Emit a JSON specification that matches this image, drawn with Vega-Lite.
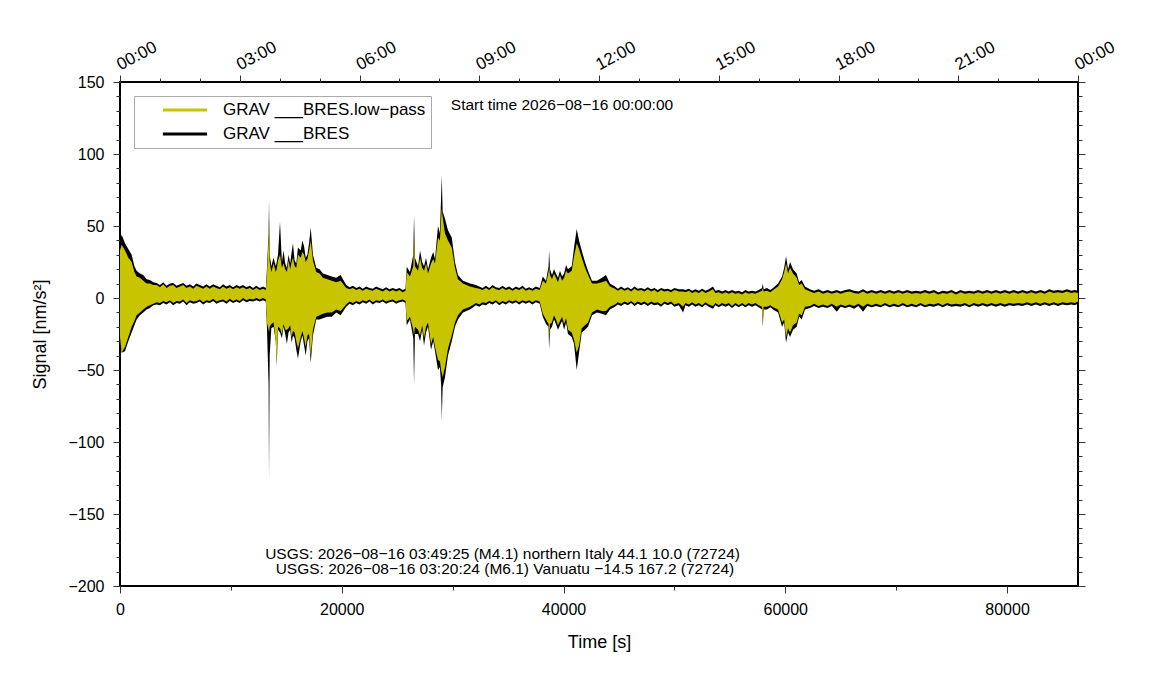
{
  "$schema": "https://vega.github.io/schema/vega-lite/v6.json",
  "width": 958,
  "height": 504,
  "autosize": {"type": "none"},
  "padding": {"left": 120, "top": 82, "right": 73, "bottom": 114},
  "background": "white",
  "data": {"values": [
    {"t":0,"hi":40,"lo":-30,"lhi":33,"llo":-27},
    {"t":150,"hi":44,"lo":-38,"lhi":37,"llo":-38},
    {"t":450,"hi":38,"lo":-37,"lhi":33,"llo":-34},
    {"t":750,"hi":34,"lo":-30,"lhi":28,"llo":-27},
    {"t":1050,"hi":30,"lo":-24,"lhi":25,"llo":-20},
    {"t":1300,"hi":22,"lo":-19,"lhi":18,"llo":-16},
    {"t":1500,"hi":19,"lo":-15,"lhi":15,"llo":-12},
    {"t":1800,"hi":17,"lo":-12,"lhi":14,"llo":-10},
    {"t":2100,"hi":16,"lo":-10,"lhi":12,"llo":-8},
    {"t":2400,"hi":13,"lo":-8,"lhi":10,"llo":-6},
    {"t":2700,"hi":12.5,"lo":-7,"lhi":10,"llo":-5},
    {"t":3000,"hi":11,"lo":-5,"lhi":9,"llo":-4},
    {"t":3300,"hi":10.5,"lo":-4.5,"lhi":9,"llo":-3},
    {"t":3600,"hi":9,"lo":-5,"lhi":7.5,"llo":-3.5},
    {"t":3900,"hi":11,"lo":-3.5,"lhi":9.5,"llo":-2},
    {"t":4200,"hi":8.5,"lo":-4.5,"lhi":7,"llo":-3},
    {"t":4500,"hi":10,"lo":-3,"lhi":8.5,"llo":-1.5},
    {"t":4800,"hi":10.5,"lo":-5,"lhi":9,"llo":-3.5},
    {"t":5100,"hi":8.5,"lo":-3.5,"lhi":7,"llo":-2},
    {"t":5400,"hi":9.5,"lo":-4,"lhi":8,"llo":-2.5},
    {"t":5700,"hi":10.5,"lo":-2.5,"lhi":9,"llo":-1},
    {"t":6000,"hi":8.5,"lo":-5,"lhi":7,"llo":-3.5},
    {"t":6300,"hi":9.5,"lo":-3,"lhi":8,"llo":-1.5},
    {"t":6600,"hi":8,"lo":-4,"lhi":6.5,"llo":-2.5},
    {"t":6900,"hi":10,"lo":-3.5,"lhi":8.5,"llo":-2},
    {"t":7200,"hi":9,"lo":-2.5,"lhi":7.5,"llo":-1},
    {"t":7500,"hi":8,"lo":-4.5,"lhi":6.5,"llo":-3},
    {"t":7800,"hi":9.5,"lo":-3,"lhi":8,"llo":-1.5},
    {"t":8100,"hi":8,"lo":-3.5,"lhi":6.5,"llo":-2},
    {"t":8400,"hi":9.5,"lo":-2,"lhi":8,"llo":-0.5},
    {"t":8700,"hi":8.5,"lo":-4,"lhi":7,"llo":-2.5},
    {"t":9000,"hi":7.5,"lo":-3,"lhi":6,"llo":-1.5},
    {"t":9300,"hi":9.5,"lo":-2.5,"lhi":8,"llo":-1},
    {"t":9600,"hi":8,"lo":-4,"lhi":6.5,"llo":-2.5},
    {"t":9900,"hi":9,"lo":-2,"lhi":7.5,"llo":-0.5},
    {"t":10200,"hi":7.5,"lo":-3.5,"lhi":6,"llo":-2},
    {"t":10500,"hi":9,"lo":-2.5,"lhi":7.5,"llo":-1},
    {"t":10800,"hi":8,"lo":-3.5,"lhi":6.5,"llo":-2},
    {"t":11100,"hi":9,"lo":-1.5,"lhi":7.5,"llo":0},
    {"t":11400,"hi":7.5,"lo":-3,"lhi":6,"llo":-1.5},
    {"t":11700,"hi":8.5,"lo":-2,"lhi":7,"llo":-0.5},
    {"t":12000,"hi":7,"lo":-2.5,"lhi":5.5,"llo":-1},
    {"t":12300,"hi":8.5,"lo":-1.5,"lhi":7,"llo":0},
    {"t":12600,"hi":7,"lo":-2.5,"lhi":5.5,"llo":-1},
    {"t":12900,"hi":8,"lo":-1.5,"lhi":6.5,"llo":0},
    {"t":13150,"hi":7,"lo":-2.5,"lhi":5.5,"llo":-1},
    {"t":13250,"hi":20,"lo":-20,"lhi":16,"llo":-17},
    {"t":13400,"hi":45,"lo":-60,"lhi":40,"llo":-22},
    {"t":13440,"hi":68.5,"lo":-126,"lhi":55,"llo":-24},
    {"t":13500,"hi":30,"lo":-40,"lhi":25,"llo":-20},
    {"t":13650,"hi":22,"lo":-21,"lhi":18,"llo":-18},
    {"t":13850,"hi":28,"lo":-20,"lhi":24,"llo":-17},
    {"t":14050,"hi":22,"lo":-30,"lhi":18,"llo":-30},
    {"t":14130,"hi":25,"lo":-47,"lhi":20,"llo":-46},
    {"t":14250,"hi":30,"lo":-22,"lhi":26,"llo":-20},
    {"t":14430,"hi":53,"lo":-24,"lhi":30,"llo":-21},
    {"t":14600,"hi":25,"lo":-28,"lhi":21,"llo":-25},
    {"t":14750,"hi":33,"lo":-20,"lhi":24,"llo":-18},
    {"t":14900,"hi":24,"lo":-25,"lhi":20,"llo":-22},
    {"t":15050,"hi":21,"lo":-32,"lhi":18,"llo":-22},
    {"t":15200,"hi":30,"lo":-24,"lhi":26,"llo":-21},
    {"t":15350,"hi":24,"lo":-22,"lhi":20,"llo":-19},
    {"t":15480,"hi":32,"lo":-31,"lhi":25,"llo":-27},
    {"t":15600,"hi":38,"lo":-26,"lhi":28,"llo":-23},
    {"t":15750,"hi":26,"lo":-28,"lhi":22,"llo":-24},
    {"t":15900,"hi":24,"lo":-36,"lhi":21,"llo":-30},
    {"t":16050,"hi":35,"lo":-42,"lhi":30,"llo":-35},
    {"t":16300,"hi":33,"lo":-30,"lhi":28,"llo":-27},
    {"t":16450,"hi":40,"lo":-26,"lhi":32,"llo":-23},
    {"t":16600,"hi":36,"lo":-33,"lhi":30,"llo":-28},
    {"t":16750,"hi":28,"lo":-40,"lhi":25,"llo":-34},
    {"t":16900,"hi":30,"lo":-30,"lhi":27,"llo":-26},
    {"t":17050,"hi":38,"lo":-28,"lhi":33,"llo":-25},
    {"t":17200,"hi":49,"lo":-45,"lhi":40,"llo":-40},
    {"t":17400,"hi":30,"lo":-26,"lhi":26,"llo":-22},
    {"t":17700,"hi":21,"lo":-15,"lhi":18,"llo":-13},
    {"t":18000,"hi":20,"lo":-15,"lhi":17,"llo":-12},
    {"t":18300,"hi":17,"lo":-14,"lhi":14,"llo":-11},
    {"t":18700,"hi":16,"lo":-13,"lhi":13,"llo":-10},
    {"t":19100,"hi":15,"lo":-13,"lhi":12,"llo":-10},
    {"t":19500,"hi":14,"lo":-10,"lhi":11,"llo":-8},
    {"t":19900,"hi":16,"lo":-12,"lhi":12,"llo":-9},
    {"t":20400,"hi":9,"lo":-6,"lhi":7,"llo":-4.5},
    {"t":20700,"hi":7.5,"lo":-4,"lhi":6,"llo":-2.5},
    {"t":21000,"hi":8.5,"lo":-5,"lhi":7,"llo":-3.5},
    {"t":21300,"hi":7,"lo":-3.5,"lhi":5.5,"llo":-2},
    {"t":21600,"hi":8,"lo":-4.5,"lhi":6.5,"llo":-3},
    {"t":21900,"hi":6.5,"lo":-3,"lhi":5,"llo":-1.5},
    {"t":22200,"hi":8,"lo":-4,"lhi":6.5,"llo":-2.5},
    {"t":22500,"hi":7,"lo":-2.5,"lhi":5.5,"llo":-1},
    {"t":22800,"hi":6.5,"lo":-4.5,"lhi":5,"llo":-3},
    {"t":23100,"hi":8,"lo":-3,"lhi":6.5,"llo":-1.5},
    {"t":23400,"hi":7,"lo":-3.5,"lhi":5.5,"llo":-2},
    {"t":23700,"hi":6,"lo":-2.5,"lhi":4.5,"llo":-1},
    {"t":24000,"hi":7.5,"lo":-4,"lhi":6,"llo":-2.5},
    {"t":24300,"hi":6,"lo":-3,"lhi":4.5,"llo":-1.5},
    {"t":24600,"hi":7,"lo":-2.5,"lhi":5.5,"llo":-1},
    {"t":24900,"hi":6,"lo":-4,"lhi":4.5,"llo":-2.5},
    {"t":25200,"hi":7,"lo":-3,"lhi":5.5,"llo":-1.5},
    {"t":25500,"hi":5.5,"lo":-2.5,"lhi":4,"llo":-1},
    {"t":25750,"hi":6.5,"lo":-3.5,"lhi":5,"llo":-2},
    {"t":25860,"hi":21.7,"lo":-19,"lhi":18,"llo":-16},
    {"t":26150,"hi":18,"lo":-15,"lhi":15,"llo":-13},
    {"t":26450,"hi":30,"lo":-28,"lhi":22,"llo":-22},
    {"t":26520,"hi":58,"lo":-60,"lhi":45,"llo":-26},
    {"t":26600,"hi":28,"lo":-25,"lhi":22,"llo":-20},
    {"t":26880,"hi":22,"lo":-25,"lhi":19,"llo":-22},
    {"t":27060,"hi":33,"lo":-30,"lhi":28,"llo":-26},
    {"t":27250,"hi":25,"lo":-22,"lhi":21,"llo":-19},
    {"t":27420,"hi":22,"lo":-33,"lhi":19,"llo":-28},
    {"t":27600,"hi":28,"lo":-24,"lhi":24,"llo":-20},
    {"t":27780,"hi":20,"lo":-20,"lhi":17,"llo":-17},
    {"t":28050,"hi":28,"lo":-36,"lhi":24,"llo":-32},
    {"t":28250,"hi":32,"lo":-30,"lhi":27,"llo":-27},
    {"t":28410,"hi":27,"lo":-37,"lhi":24,"llo":-34},
    {"t":28680,"hi":50,"lo":-50,"lhi":42,"llo":-43},
    {"t":28850,"hi":45,"lo":-48,"lhi":40,"llo":-44},
    {"t":28960,"hi":70,"lo":-60,"lhi":55,"llo":-50},
    {"t":29020,"hi":85,"lo":-85,"lhi":62,"llo":-52},
    {"t":29100,"hi":60,"lo":-62,"lhi":56,"llo":-55},
    {"t":29310,"hi":55,"lo":-55,"lhi":45,"llo":-48},
    {"t":29580,"hi":47,"lo":-40,"lhi":40,"llo":-35},
    {"t":29920,"hi":42,"lo":-30,"lhi":35,"llo":-26},
    {"t":30210,"hi":25,"lo":-20,"lhi":21,"llo":-17},
    {"t":30480,"hi":16,"lo":-15,"lhi":13,"llo":-12},
    {"t":30930,"hi":12,"lo":-10,"lhi":10,"llo":-8},
    {"t":31570,"hi":10,"lo":-8,"lhi":8,"llo":-6},
    {"t":32100,"hi":9,"lo":-5,"lhi":7,"llo":-3.5},
    {"t":32400,"hi":8,"lo":-6,"lhi":6.5,"llo":-4.5},
    {"t":32700,"hi":7,"lo":-4.5,"lhi":5.5,"llo":-3},
    {"t":33000,"hi":8.5,"lo":-5,"lhi":7,"llo":-3.5},
    {"t":33300,"hi":7,"lo":-3.5,"lhi":5.5,"llo":-2},
    {"t":33600,"hi":9,"lo":-4.5,"lhi":7.5,"llo":-3},
    {"t":33900,"hi":7.5,"lo":-3,"lhi":6,"llo":-1.5},
    {"t":34200,"hi":7,"lo":-5,"lhi":5.5,"llo":-3.5},
    {"t":34500,"hi":8.5,"lo":-3.5,"lhi":7,"llo":-2},
    {"t":34800,"hi":7,"lo":-4.5,"lhi":5.5,"llo":-3},
    {"t":35100,"hi":8,"lo":-3,"lhi":6.5,"llo":-1.5},
    {"t":35400,"hi":6.5,"lo":-4,"lhi":5,"llo":-2.5},
    {"t":35700,"hi":8,"lo":-3,"lhi":6.5,"llo":-1.5},
    {"t":36000,"hi":7,"lo":-4.5,"lhi":5.5,"llo":-3},
    {"t":36300,"hi":8.5,"lo":-3,"lhi":7,"llo":-1.5},
    {"t":36600,"hi":6.5,"lo":-4,"lhi":5,"llo":-2.5},
    {"t":36900,"hi":7.5,"lo":-3,"lhi":6,"llo":-1.5},
    {"t":37200,"hi":6.5,"lo":-4.5,"lhi":5,"llo":-3},
    {"t":37500,"hi":8,"lo":-3,"lhi":6.5,"llo":-1.5},
    {"t":37850,"hi":7,"lo":-4,"lhi":5.5,"llo":-2.5},
    {"t":38130,"hi":15,"lo":-13,"lhi":12,"llo":-11},
    {"t":38420,"hi":12,"lo":-18,"lhi":10,"llo":-15},
    {"t":38650,"hi":22,"lo":-20,"lhi":18,"llo":-18},
    {"t":38700,"hi":33,"lo":-36,"lhi":22,"llo":-26},
    {"t":38780,"hi":20,"lo":-22,"lhi":16,"llo":-18},
    {"t":38960,"hi":16,"lo":-20,"lhi":13,"llo":-17},
    {"t":39140,"hi":20,"lo":-15,"lhi":17,"llo":-12},
    {"t":39320,"hi":17,"lo":-18,"lhi":14,"llo":-15},
    {"t":39500,"hi":14,"lo":-22,"lhi":11,"llo":-19},
    {"t":39680,"hi":19,"lo":-19,"lhi":16,"llo":-16},
    {"t":39870,"hi":15,"lo":-16,"lhi":12,"llo":-13},
    {"t":40050,"hi":17,"lo":-22,"lhi":14,"llo":-18},
    {"t":40230,"hi":23,"lo":-17,"lhi":19,"llo":-14},
    {"t":40400,"hi":20,"lo":-25,"lhi":17,"llo":-22},
    {"t":40740,"hi":22,"lo":-27,"lhi":19,"llo":-24},
    {"t":40950,"hi":35,"lo":-32,"lhi":29,"llo":-29},
    {"t":41190,"hi":48,"lo":-50,"lhi":38,"llo":-38},
    {"t":41400,"hi":40,"lo":-38,"lhi":34,"llo":-33},
    {"t":41640,"hi":33,"lo":-24,"lhi":28,"llo":-21},
    {"t":41940,"hi":25,"lo":-22,"lhi":21,"llo":-19},
    {"t":42210,"hi":19,"lo":-20,"lhi":16,"llo":-17},
    {"t":42570,"hi":12,"lo":-12,"lhi":10,"llo":-10},
    {"t":43020,"hi":12,"lo":-10,"lhi":10,"llo":-8},
    {"t":43470,"hi":14,"lo":-11,"lhi":11,"llo":-9},
    {"t":43830,"hi":16,"lo":-12,"lhi":12,"llo":-9},
    {"t":44190,"hi":10,"lo":-8,"lhi":8,"llo":-6},
    {"t":44640,"hi":8,"lo":-6,"lhi":6.5,"llo":-4.5},
    {"t":44900,"hi":6.5,"lo":-4.5,"lhi":5,"llo":-3},
    {"t":45200,"hi":8,"lo":-5.5,"lhi":6.5,"llo":-4},
    {"t":45500,"hi":6.5,"lo":-4,"lhi":5,"llo":-2.5},
    {"t":45800,"hi":7.5,"lo":-5,"lhi":6,"llo":-3.5},
    {"t":46100,"hi":6,"lo":-3.5,"lhi":4.5,"llo":-2},
    {"t":46400,"hi":8,"lo":-5.5,"lhi":6.5,"llo":-4},
    {"t":46700,"hi":6.5,"lo":-4,"lhi":5,"llo":-2.5},
    {"t":47000,"hi":7,"lo":-5,"lhi":5.5,"llo":-3.5},
    {"t":47300,"hi":6,"lo":-4,"lhi":4.5,"llo":-2.5},
    {"t":47600,"hi":7.5,"lo":-5.5,"lhi":6,"llo":-4},
    {"t":47900,"hi":6,"lo":-4,"lhi":4.5,"llo":-2.5},
    {"t":48200,"hi":7,"lo":-5,"lhi":5.5,"llo":-3.5},
    {"t":48500,"hi":5.5,"lo":-4.5,"lhi":4,"llo":-3},
    {"t":48800,"hi":7,"lo":-6,"lhi":5.5,"llo":-4.5},
    {"t":49100,"hi":6,"lo":-4,"lhi":4.5,"llo":-2.5},
    {"t":49400,"hi":6.5,"lo":-5,"lhi":5,"llo":-3.5},
    {"t":49700,"hi":5.5,"lo":-4,"lhi":4,"llo":-2.5},
    {"t":50000,"hi":7,"lo":-6,"lhi":5.5,"llo":-4.5},
    {"t":50400,"hi":6,"lo":-5,"lhi":4.5,"llo":-3.5},
    {"t":50780,"hi":6,"lo":-10,"lhi":4.5,"llo":-6},
    {"t":51000,"hi":5.5,"lo":-5,"lhi":4,"llo":-3.5},
    {"t":51300,"hi":6.5,"lo":-6,"lhi":5,"llo":-4.5},
    {"t":51600,"hi":5,"lo":-4.5,"lhi":3.5,"llo":-3},
    {"t":51900,"hi":6,"lo":-6,"lhi":4.5,"llo":-4.5},
    {"t":52200,"hi":5,"lo":-5,"lhi":3.5,"llo":-3.5},
    {"t":52500,"hi":6.5,"lo":-6.5,"lhi":5,"llo":-5},
    {"t":52800,"hi":5,"lo":-4.5,"lhi":3.5,"llo":-3},
    {"t":53100,"hi":6,"lo":-6,"lhi":4.5,"llo":-4.5},
    {"t":53480,"hi":8,"lo":-7.5,"lhi":6,"llo":-5.5},
    {"t":53700,"hi":5,"lo":-5,"lhi":3.5,"llo":-3.5},
    {"t":54000,"hi":5.5,"lo":-6.5,"lhi":4,"llo":-5},
    {"t":54300,"hi":4.5,"lo":-5,"lhi":3,"llo":-3.5},
    {"t":54600,"hi":5.5,"lo":-6,"lhi":4,"llo":-4.5},
    {"t":54900,"hi":4.5,"lo":-5,"lhi":3,"llo":-3.5},
    {"t":55200,"hi":5.5,"lo":-7,"lhi":4,"llo":-5.5},
    {"t":55500,"hi":4.5,"lo":-5,"lhi":3,"llo":-3.5},
    {"t":55800,"hi":5,"lo":-6.5,"lhi":3.5,"llo":-5},
    {"t":56100,"hi":4,"lo":-5,"lhi":2.5,"llo":-3.5},
    {"t":56400,"hi":5.5,"lo":-6.5,"lhi":4,"llo":-5},
    {"t":56700,"hi":4.5,"lo":-5,"lhi":3,"llo":-3.5},
    {"t":57000,"hi":5,"lo":-6,"lhi":3.5,"llo":-4.5},
    {"t":57300,"hi":4.5,"lo":-5,"lhi":3,"llo":-3.5},
    {"t":57600,"hi":5.5,"lo":-6.5,"lhi":4,"llo":-5},
    {"t":57900,"hi":7,"lo":-8,"lhi":5,"llo":-6},
    {"t":57970,"hi":10,"lo":-20,"lhi":7,"llo":-19},
    {"t":58050,"hi":6,"lo":-8,"lhi":4.5,"llo":-6},
    {"t":58350,"hi":7,"lo":-8,"lhi":5,"llo":-6},
    {"t":58650,"hi":5.5,"lo":-6.5,"lhi":4,"llo":-5},
    {"t":58900,"hi":7,"lo":-8,"lhi":5.5,"llo":-6.5},
    {"t":59350,"hi":10,"lo":-10,"lhi":8,"llo":-8},
    {"t":59710,"hi":15,"lo":-20,"lhi":13,"llo":-17},
    {"t":59900,"hi":21,"lo":-17,"lhi":18,"llo":-15},
    {"t":60070,"hi":29,"lo":-31,"lhi":24,"llo":-27},
    {"t":60250,"hi":20,"lo":-24,"lhi":17,"llo":-21},
    {"t":60430,"hi":25,"lo":-27,"lhi":21,"llo":-24},
    {"t":60700,"hi":20,"lo":-22,"lhi":17,"llo":-19},
    {"t":61030,"hi":17,"lo":-20,"lhi":14,"llo":-17},
    {"t":61250,"hi":11,"lo":-13,"lhi":9,"llo":-11},
    {"t":61480,"hi":12.5,"lo":-15,"lhi":10,"llo":-12},
    {"t":61780,"hi":8,"lo":-8,"lhi":6,"llo":-6},
    {"t":62230,"hi":6,"lo":-7,"lhi":4.5,"llo":-5.5},
    {"t":62600,"hi":5,"lo":-5.5,"lhi":3.5,"llo":-4},
    {"t":63000,"hi":6,"lo":-7,"lhi":4.5,"llo":-5.5},
    {"t":63400,"hi":4.5,"lo":-6,"lhi":3,"llo":-4.5},
    {"t":63800,"hi":5.5,"lo":-7,"lhi":4,"llo":-5.5},
    {"t":64200,"hi":4.5,"lo":-5.5,"lhi":3,"llo":-4},
    {"t":64640,"hi":5.5,"lo":-9.5,"lhi":4,"llo":-6},
    {"t":65000,"hi":4.5,"lo":-6,"lhi":3,"llo":-4.5},
    {"t":65400,"hi":5.5,"lo":-7,"lhi":4,"llo":-5.5},
    {"t":65800,"hi":6,"lo":-6,"lhi":4.5,"llo":-4.5},
    {"t":66200,"hi":5,"lo":-7.5,"lhi":3.5,"llo":-5.5},
    {"t":66600,"hi":4.5,"lo":-5.5,"lhi":3,"llo":-4},
    {"t":67010,"hi":6,"lo":-9.5,"lhi":4.5,"llo":-6},
    {"t":67400,"hi":4.5,"lo":-5.5,"lhi":3,"llo":-4},
    {"t":67800,"hi":5.5,"lo":-6.5,"lhi":4,"llo":-5},
    {"t":68200,"hi":4.5,"lo":-5.5,"lhi":3,"llo":-4},
    {"t":68600,"hi":5.5,"lo":-6.5,"lhi":4,"llo":-5},
    {"t":69000,"hi":4.5,"lo":-5,"lhi":3,"llo":-3.5},
    {"t":69400,"hi":5.5,"lo":-6.5,"lhi":4,"llo":-5},
    {"t":69800,"hi":4.5,"lo":-5.5,"lhi":3,"llo":-4},
    {"t":70200,"hi":5.5,"lo":-6.5,"lhi":4,"llo":-5},
    {"t":70600,"hi":4.5,"lo":-5,"lhi":3,"llo":-3.5},
    {"t":71000,"hi":5.5,"lo":-6.5,"lhi":4,"llo":-5},
    {"t":71400,"hi":4.5,"lo":-5.5,"lhi":3,"llo":-4},
    {"t":71800,"hi":5,"lo":-6.5,"lhi":3.5,"llo":-5},
    {"t":72200,"hi":4.5,"lo":-5,"lhi":3,"llo":-3.5},
    {"t":72600,"hi":5.5,"lo":-6.5,"lhi":4,"llo":-5},
    {"t":73000,"hi":4.5,"lo":-5.5,"lhi":3,"llo":-4},
    {"t":73400,"hi":5.5,"lo":-6,"lhi":4,"llo":-4.5},
    {"t":73800,"hi":4,"lo":-5,"lhi":2.5,"llo":-3.5},
    {"t":74200,"hi":5,"lo":-6.5,"lhi":3.5,"llo":-5},
    {"t":74600,"hi":4.5,"lo":-5,"lhi":3,"llo":-3.5},
    {"t":75000,"hi":5.5,"lo":-6,"lhi":4,"llo":-4.5},
    {"t":75400,"hi":4,"lo":-5.5,"lhi":2.5,"llo":-4},
    {"t":75800,"hi":5.5,"lo":-6,"lhi":4,"llo":-4.5},
    {"t":76200,"hi":4.5,"lo":-5,"lhi":3,"llo":-3.5},
    {"t":76600,"hi":5,"lo":-6.5,"lhi":3.5,"llo":-5},
    {"t":77000,"hi":4.5,"lo":-5,"lhi":3,"llo":-3.5},
    {"t":77400,"hi":5.5,"lo":-6,"lhi":4,"llo":-4.5},
    {"t":77800,"hi":4.5,"lo":-5,"lhi":3,"llo":-3.5},
    {"t":78200,"hi":5.5,"lo":-6,"lhi":4,"llo":-4.5},
    {"t":78600,"hi":4.5,"lo":-5,"lhi":3,"llo":-3.5},
    {"t":79000,"hi":5.5,"lo":-6,"lhi":4,"llo":-4.5},
    {"t":79400,"hi":4.5,"lo":-5,"lhi":3,"llo":-3.5},
    {"t":79800,"hi":5.5,"lo":-6,"lhi":4,"llo":-4.5},
    {"t":80200,"hi":4.5,"lo":-5,"lhi":3,"llo":-3.5},
    {"t":80600,"hi":5.5,"lo":-5.5,"lhi":4,"llo":-4},
    {"t":81000,"hi":4.5,"lo":-5,"lhi":3,"llo":-3.5},
    {"t":81400,"hi":5.5,"lo":-5.5,"lhi":4,"llo":-4},
    {"t":81800,"hi":4.5,"lo":-4.5,"lhi":3,"llo":-3},
    {"t":82200,"hi":5.5,"lo":-5.5,"lhi":4,"llo":-4},
    {"t":82600,"hi":4.5,"lo":-4.5,"lhi":3,"llo":-3},
    {"t":83000,"hi":5.5,"lo":-5.5,"lhi":4,"llo":-4},
    {"t":83400,"hi":4.5,"lo":-4.5,"lhi":3,"llo":-3},
    {"t":83800,"hi":6,"lo":-5.5,"lhi":4.5,"llo":-4},
    {"t":84200,"hi":5,"lo":-4.5,"lhi":3.5,"llo":-3},
    {"t":84600,"hi":5.5,"lo":-5.5,"lhi":4,"llo":-4},
    {"t":85000,"hi":5,"lo":-4.5,"lhi":3.5,"llo":-3},
    {"t":85400,"hi":6,"lo":-5,"lhi":4.5,"llo":-3.5},
    {"t":85800,"hi":5,"lo":-4.5,"lhi":3.5,"llo":-3},
    {"t":86100,"hi":5.5,"lo":-5,"lhi":4,"llo":-3.5},
    {"t":86400,"hi":5,"lo":-4,"lhi":3.5,"llo":-2.5}
  ]},
  "layer": [
    {
      "mark": {"type": "area", "interpolate": "linear", "opacity": 1},
      "encoding": {
        "x": {"field": "t", "type": "quantitative",
          "scale": {"domain": [0, 86400], "nice": false, "zero": false},
          "axis": {"orient": "bottom", "title": "Time [s]", "format": "d",
            "values": [0,10000,20000,30000,40000,50000,60000,70000,80000],
            "labelExpr": "datum.value % 20000 === 0 ? datum.label : ''",
            "tickSize": {"condition": {"test": "datum.value % 20000 === 0", "value": 7}, "value": 4},
            "labelPadding": 8, "titlePadding": 16}},
        "y": {"field": "hi", "type": "quantitative",
          "scale": {"domain": [-200, 150], "nice": false, "zero": false},
          "axis": {"orient": "left", "title": "Signal [nm/s²]", "format": "d",
            "values": [-200,-190,-180,-170,-160,-150,-140,-130,-120,-110,-100,-90,-80,-70,-60,-50,-40,-30,-20,-10,0,10,20,30,40,50,60,70,80,90,100,110,120,130,140,150],
            "labelExpr": "datum.value % 50 === 0 ? datum.label : ''",
            "tickSize": {"condition": {"test": "datum.value % 50 === 0", "value": 7}, "value": 4},
            "labelPadding": 9, "titlePadding": 18}},
        "y2": {"field": "lo"},
        "color": {"datum": "GRAV ___BRES", "type": "nominal",
          "scale": {"domain": ["GRAV ___BRES.low−pass", "GRAV ___BRES"], "range": ["#c8c400", "#000000"]},
          "legend": {"orient": "none", "legendX": 14, "legendY": 14, "title": null,
            "symbolType": "M-2.6,-0.18H2.6V0.18H-2.6Z", "symbolSize": 289, "symbolStrokeWidth": 0,
            "labelFontSize": 17, "labelFont": "Liberation Sans", "labelColor": "#000", "labelLimit": 0,
            "padding": 5.5, "rowPadding": 6, "strokeColor": "#aaaaaa", "fillColor": "white",
            "symbolOffset": 37, "labelOffset": 29.5}}
      }
    },
    {
      "mark": {"type": "area", "interpolate": "linear", "opacity": 1},
      "encoding": {
        "x": {"field": "t", "type": "quantitative",
          "axis": {"orient": "top", "title": null,
            "values": [0,3600,7200,10800,14400,18000,21600,25200,28800,32400,36000,39600,43200,46800,50400,54000,57600,61200,64800,68400,72000,75600,79200,82800,86400],
            "labelExpr": "datum.value % 10800 === 0 ? ((floor(datum.value/3600) % 24) < 10 ? '0' : '') + (floor(datum.value/3600) % 24) + ':00' : ''",
            "tickSize": {"condition": {"test": "datum.value % 10800 === 0", "value": 7}, "value": 4},
            "labelAngle": -28, "labelAlign": "left", "labelBaseline": "alphabetic", "labelPadding": 5, "labelFontSize": 17}},
        "y": {"field": "lhi", "type": "quantitative",
          "axis": {"orient": "right", "title": null, "labels": false,
            "values": [-200,-190,-180,-170,-160,-150,-140,-130,-120,-110,-100,-90,-80,-70,-60,-50,-40,-30,-20,-10,0,10,20,30,40,50,60,70,80,90,100,110,120,130,140,150],
            "tickSize": {"condition": {"test": "datum.value % 50 === 0", "value": 7}, "value": 4}}},
        "y2": {"field": "llo"},
        "color": {"datum": "GRAV ___BRES.low−pass", "type": "nominal"}
      }
    },
    {
      "data": {"values": [{}]},
      "mark": {"type": "text", "text": "Start time 2026−08−16 00:00:00", "font": "Liberation Sans", "fontSize": 15.5, "align": "center", "baseline": "middle", "color": "#000"},
      "encoding": {
        "x": {"datum": 39860, "type": "quantitative", "axis": null},
        "y": {"datum": 134, "type": "quantitative", "axis": null}
      }
    },
    {
      "data": {"values": [{}]},
      "mark": {"type": "text", "text": "USGS: 2026−08−16 03:49:25 (M4.1) northern Italy 44.1 10.0 (72724)", "font": "Liberation Sans", "fontSize": 15.5, "align": "center", "baseline": "middle", "color": "#000"},
      "encoding": {
        "x": {"datum": 34500, "type": "quantitative", "axis": null},
        "y": {"datum": -177.5, "type": "quantitative", "axis": null}
      }
    },
    {
      "data": {"values": [{}]},
      "mark": {"type": "text", "text": "USGS: 2026−08−16 03:20:24 (M6.1) Vanuatu −14.5 167.2 (72724)", "font": "Liberation Sans", "fontSize": 15.5, "align": "center", "baseline": "middle", "color": "#000"},
      "encoding": {
        "x": {"datum": 34720, "type": "quantitative", "axis": null},
        "y": {"datum": -188.5, "type": "quantitative", "axis": null}
      }
    }
  ],
  "resolve": {"axis": {"x": "independent", "y": "independent"}},
  "config": {
    "view": {"stroke": "#000", "strokeWidth": 2},
    "axis": {"labelFont": "Liberation Sans", "titleFont": "Liberation Sans", "labelFontSize": 16, "titleFontSize": 18,
      "titleFontWeight": "normal", "labelColor": "#000", "titleColor": "#000", "tickColor": "#333", "tickWidth": 1,
      "domain": false, "grid": false, "labelOverlap": false, "labelFlush": false},
    "legend": {"labelFont": "Liberation Sans"}
  }
}
